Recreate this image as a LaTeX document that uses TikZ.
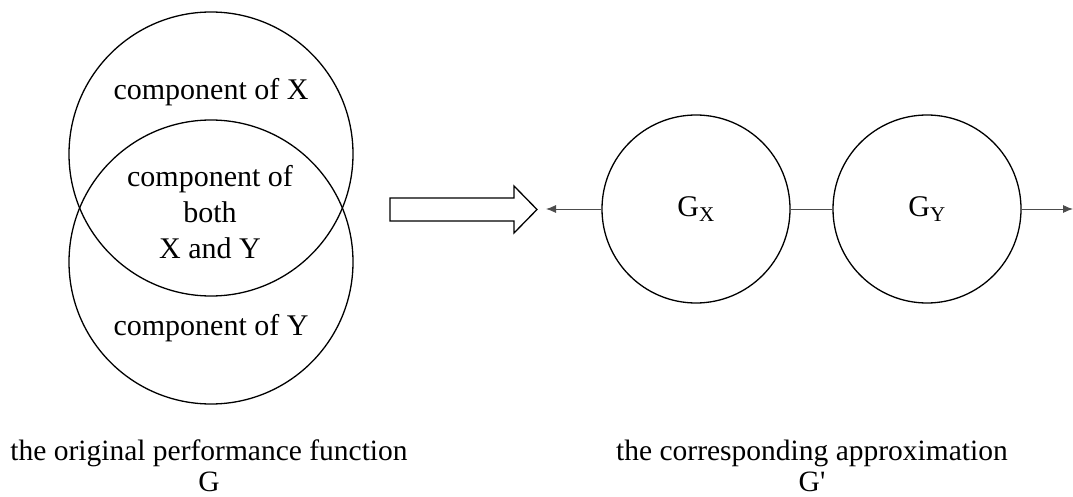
\documentclass[tikz,border=0pt]{standalone}
\usepackage{fontspec}
\setmainfont{Liberation Serif}
\usetikzlibrary{arrows.meta}
\begin{document}
\begin{tikzpicture}[x=1pt,y=-1pt,
  ring/.style={circle,draw=black,line width=1.3pt,inner sep=0pt},
  lbl/.style={font=\fontsize{30}{36}\selectfont,align=center,inner sep=0pt},
  captxt/.style={font=\fontsize{29.5}{34}\selectfont,align=center,inner sep=0pt},
  conn/.style={draw=black!70,line width=0.9pt},
  tip/.style={-{Latex[length=10pt,width=8pt]}}]
\useasboundingbox (0,0) rectangle (1073,497);
% Venn circles
\node[ring,minimum size=284pt] (top) at (211,154) {};
\node[ring,minimum size=284pt] (bot) at (211,262) {};
\node[lbl] (tx) at (211,92) {component of X};
\node[lbl] (tb) at (210,212) {component of\\both\\X and Y};
\node[lbl] (ty) at (211,328) {component of Y};
% block arrow
\draw[line width=1.3pt,fill=white] (390,198) -- (514,198) -- (514,186) -- (537,209.5)
  -- (514,233) -- (514,221) -- (390,221) -- cycle;
% right side
\node[ring,minimum size=188pt] (gx) at (696,209) {};
\node[ring,minimum size=188pt] (gy) at (927,209) {};
\node[lbl] (gxl) at (gx.center) {G\textsubscript{X}};
\node[lbl] (gyl) at (gy.center) {G\textsubscript{Y}};
\coordinate (lend) at (546,209);
\coordinate (rend) at (1073,209);
\draw[conn,tip] (gx.west) -- (lend);
\draw[conn] (gx.east) -- (gy.west);
\draw[conn,tip] (gy.east) -- (rend);
% captions
\node[captxt] (c1) at (209,453) {the original performance function};
\node[captxt] (c1g) at (209,482) {G};
\node[captxt] (c2) at (812,453) {the corresponding approximation};
\node[captxt] (c2g) at (812,482) {G\textquotesingle};
\end{tikzpicture}
\end{document}
